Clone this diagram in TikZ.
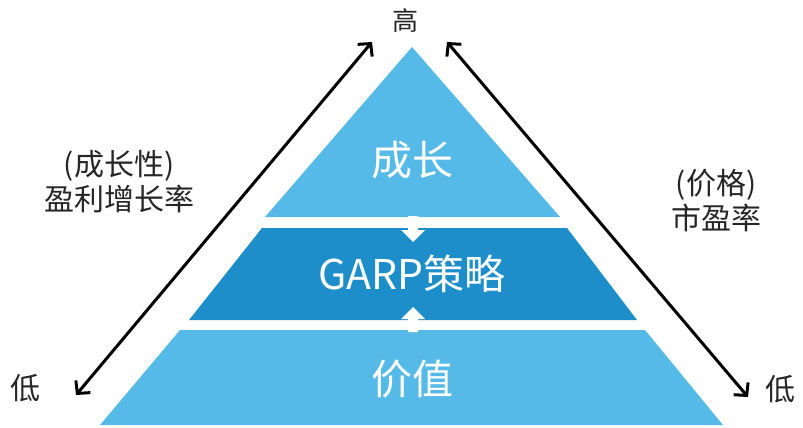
\documentclass[tikz,border=0pt]{standalone}
\usepackage{fontspec}
\setmainfont{Noto Sans CJK SC}
\usetikzlibrary{arrows.meta}
\definecolor{lightblue}{RGB}{86,186,232}
\definecolor{midblue}{RGB}{30,142,202}
\tikzset{
  tier/.style={fill=lightblue, draw=none},
  midtier/.style={fill=midblue, draw=none},
  tiertext/.style={text=white, font=\fontsize{41}{45}\selectfont, inner sep=0pt},
  sidetext/.style={text=black!85, font=\fontsize{30}{35}\selectfont, align=center, inner sep=0pt},
  axis/.style={line width=3pt, black,
    {Straight Barb[length=9pt,width=19pt,line width=3pt]}-{Straight Barb[length=9pt,width=19pt,line width=3pt]}},
  blockarrow/.style={fill=white, draw=none}
}
\begin{document}
\begin{tikzpicture}[x=1pt,y=-1pt]
\useasboundingbox (0,0) rectangle (803,428);
\fill[white] (0,0) rectangle (803,428);
% tiers
\fill[tier] (412,47) -- (265,217) -- (560,217) -- cycle;
\fill[midtier] (262,228) -- (567,228) -- (637,320) -- (189,320) -- cycle;
\fill[tier] (180,330) -- (645,330) -- (723,425) -- (100,425) -- cycle;
% small block arrows
\fill[blockarrow] (408,216) -- (418,216) -- (418,230) -- (425,230) -- (413,242) -- (401,230) -- (408,230) -- cycle;
\fill[blockarrow] (408,332) -- (418,332) -- (418,319) -- (425,319) -- (413,307) -- (401,319) -- (408,319) -- cycle;
% tier labels
\node[tiertext] (growth) at (412,160) {成长};
\node[tiertext] (garp) at (412,274) {GARP策略};
\node[tiertext] (value) at (412,379) {价值};
% side labels
\node[sidetext, font=\fontsize{26}{30}\selectfont] (high) at (405,21) {高};
\node[sidetext] (lowL) at (25,388) {低};
\node[sidetext] (lowR) at (780,389) {低};
\node[sidetext] (growthrate) at (119,182) {(成长性)\\盈利增长率};
\node[sidetext] (pe) at (716,201) {(价格)\\市盈率};
% axis arrows
\coordinate (aL1) at (76,395);
\coordinate (aL2) at (372,42);
\coordinate (aR1) at (447,42);
\coordinate (aR2) at (748,397);
\draw[axis] (aL1) -- (aL2);
\draw[axis] (aR1) -- (aR2);
\end{tikzpicture}
\end{document}
